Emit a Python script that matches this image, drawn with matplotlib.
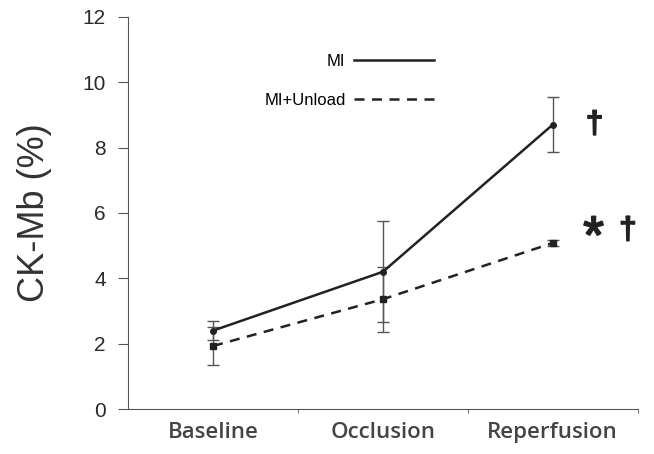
import matplotlib
matplotlib.use("Agg")
import matplotlib.pyplot as plt
import matplotlib.patheffects as pe
from matplotlib.lines import Line2D
import numpy as np

# ------------------------------
# Data
# ------------------------------
categories = ["Baseline", "Occlusion", "Reperfusion"]
mi_mean = [2.4, 4.2, 8.7]
mi_err = [0.3, 1.55, 0.85]
unload_mean = [1.93, 3.36, 5.08]
unload_err = [0.58, 1.0, 0.1]
series_labels = ["MI", "MI+Unload"]

plt.rcParams["font.family"] = ["Liberation Sans", "DejaVu Sans"]

fig = plt.figure(figsize=(6.54, 4.54), dpi=100)
ax = fig.add_axes([0.196, 0.099, 0.779, 0.864])

x = np.arange(len(categories)) + 0.5
ink = "#222222"
grey = "#555555"

ax.errorbar(x, mi_mean, yerr=mi_err, color=ink, lw=1.8, marker="o", ms=4,
            capsize=4, elinewidth=1.0, ecolor=grey)
ax.errorbar(x, unload_mean, yerr=unload_err, color=ink, lw=1.8, ls=(0, (4, 3)),
            marker="s", ms=5, capsize=4, elinewidth=1.0, ecolor=grey)

# significance marks next to reperfusion points
thick = [pe.withStroke(linewidth=1.4, foreground=ink)]
ax.annotate("†", (x[2], mi_mean[2]), xytext=(24, 0), textcoords="offset points",
            fontsize=22, color=ink, va="center", path_effects=thick)
ax.annotate("*", (x[2], unload_mean[2]), xytext=(22, 3), textcoords="offset points",
            fontsize=38, color=ink, va="center", path_effects=thick)
ax.annotate("†", (x[2], unload_mean[2]), xytext=(48, 9), textcoords="offset points",
            fontsize=22, color=ink, va="center", path_effects=thick)

ax.set_xlim(0, 3)
ax.set_ylim(0, 12)
ax.set_yticks(range(0, 13, 2))
ax.set_xticks(x)
ax.set_xticklabels(categories, fontsize=16, color="#444444", family="Open Sans",
                   fontweight="semibold")
ax.set_xticks([1, 2, 3], minor=True)
ax.tick_params(axis="x", which="major", length=0, pad=9)
ax.tick_params(axis="x", which="minor", length=3, direction="out", color=grey)
ax.tick_params(axis="y", length=7, pad=9, direction="out", labelsize=15,
               colors="#2a2a2a", color=grey)
ax.set_ylabel("CK-Mb (%)", fontsize=26, color="#333333")
ax.yaxis.set_label_coords(-0.150, 0.5)

for side in ["top", "right"]:
    ax.spines[side].set_visible(False)
for side in ["left", "bottom"]:
    ax.spines[side].set_color(grey)

handles = [Line2D([], [], color=ink, lw=1.8),
           Line2D([], [], color=ink, lw=1.8, ls=(0, (4, 3)))]
ax.legend(handles, series_labels, markerfirst=False, frameon=False, fontsize=12,
          handlelength=4.8, handletextpad=0.5, labelspacing=1.45,
          borderpad=0, borderaxespad=0,
          loc="upper right", bbox_to_anchor=(0.60, 0.905))

fig.savefig("out.png", dpi=100)
